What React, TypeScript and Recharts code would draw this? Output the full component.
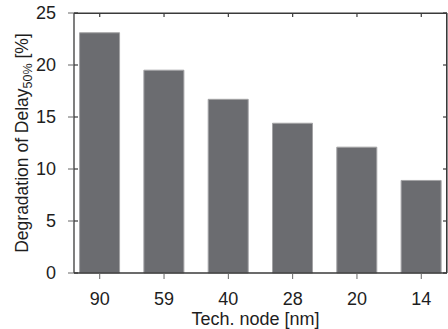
import { BarChart, Bar, XAxis, YAxis, ReferenceLine } from 'recharts';

const nodes = ['90', '59', '40', '28', '20', '14'];
const degradation = [23.1, 19.5, 16.7, 14.4, 12.1, 8.9];
const yTicks = [0, 5, 10, 15, 20, 25];

const data = nodes.map((n, i) => ({ pos: i + 1, node: n, value: degradation[i] }));
const xTicks = data.map((d) => d.pos);

const FONT = '"Liberation Sans", Arial, Helvetica, sans-serif';
const AXIS = '#3a3a3a';
const TEXT = '#1e1e1e';

// plot box edges
const PLOT_TOP = 13;
const PLOT_LEFT = 74;
const PLOT_RIGHT = 447;
const PLOT_BOTTOM = 273;
const TICK = 4;

const XTick = ({ x, y, payload }: any) => (
  <g>
    <line x1={x} x2={x} y1={PLOT_TOP} y2={PLOT_TOP + TICK} stroke="#3a3a3a" strokeWidth={1.2} />
    <text x={x} y={y} dy={14} textAnchor="middle" fontSize={18} fill={TEXT} fontFamily={FONT}>
      {nodes[payload.value - 1]}
    </text>
  </g>
);

const YTick = ({ x, y, payload }: any) => (
  <g>
    <line x1={PLOT_LEFT} x2={PLOT_LEFT + TICK} y1={y} y2={y} stroke="#3a3a3a" strokeWidth={1.2} />
    <line x1={PLOT_RIGHT} x2={PLOT_RIGHT - TICK} y1={y} y2={y} stroke="#3a3a3a" strokeWidth={1.2} />
    <text x={x} y={y} dy={6} textAnchor="end" fontSize={18} fill={TEXT} fontFamily={FONT}>
      {payload.value}
    </text>
  </g>
);

const YLabel = ({ viewBox }: any) => {
  const cx = 28;
  const cy = viewBox.y + viewBox.height / 2;
  return (
    <text
      x={cx}
      y={cy}
      transform={`rotate(-90 ${cx} ${cy})`}
      textAnchor="middle"
      fontSize={17.5}
      fill={TEXT}
      fontFamily={FONT}
    >
      Degradation of Delay
      <tspan fontSize={12.5} dy={4}>50%</tspan>
      <tspan dy={-4}> [%]</tspan>
    </text>
  );
};

const XLabel = ({ viewBox }: any) => (
  <text
    x={viewBox.x + viewBox.width / 2 - 5}
    y={325}
    textAnchor="middle"
    fontSize={18}
    fill={TEXT}
    fontFamily={FONT}
  >
    Tech. node [nm]
  </text>
);

export default function App() {
  return (
    <div style={{ position: 'absolute', left: 0, top: 0, width: 448, height: 329, background: '#fff' }}>
      <BarChart
        width={448}
        height={329}
        data={data}
        margin={{ top: PLOT_TOP, right: 448 - PLOT_RIGHT, left: 0, bottom: 0 }}
      >
        <ReferenceLine y={24.99} stroke={AXIS} strokeWidth={1.3} />
        <ReferenceLine x={6.399} stroke={AXIS} strokeWidth={1.3} />
        <XAxis
          dataKey="pos"
          type="number"
          domain={[0.6, 6.4]}
          ticks={xTicks}
          height={56}
          tickMargin={12}
          axisLine={{ stroke: AXIS, strokeWidth: 1.3 }}
          tick={<XTick />}
          label={<XLabel />}
        />
        <YAxis
          domain={[0, 25]}
          ticks={yTicks}
          width={PLOT_LEFT}
          tickMargin={12}
          axisLine={{ stroke: AXIS, strokeWidth: 1.3 }}
          tick={<YTick />}
          label={<YLabel />}
        />
        <Bar
          dataKey="value"
          barSize={40}
          fill="#6b6c70"
          stroke="#a3a3a5"
          strokeWidth={1}
          isAnimationActive={false}
        />
      </BarChart>
      {/* frame top and right edges */}
      <div
        style={{
          position: 'absolute',
          left: PLOT_LEFT,
          top: PLOT_TOP - 0.5,
          width: PLOT_RIGHT - PLOT_LEFT,
          height: PLOT_BOTTOM - PLOT_TOP,
          borderTop: `1.3px solid ${AXIS}`,
          borderRight: `1.3px solid ${AXIS}`,
          boxSizing: 'border-box',
          pointerEvents: 'none',
        }}
      />
    </div>
  );
}
